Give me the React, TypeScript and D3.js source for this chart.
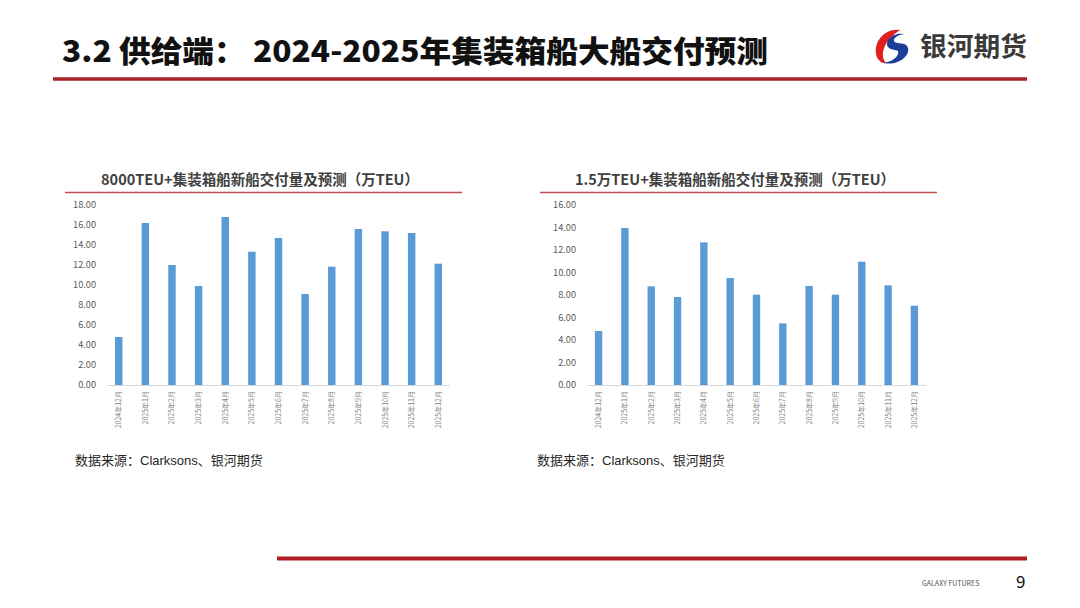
import React from "react";
import * as d3 from "d3";

const months = ["2024年12月", "2025年1月", "2025年2月", "2025年3月", "2025年4月", "2025年5月", "2025年6月", "2025年7月", "2025年8月", "2025年9月", "2025年10月", "2025年11月", "2025年12月"];
const values8000 = [4.8, 16.2, 12.0, 9.9, 16.8, 13.33, 14.7, 9.1, 11.83, 15.6, 15.37, 15.2, 12.13];
const values15k = [4.8, 13.96, 8.77, 7.82, 12.68, 9.51, 8.03, 5.48, 8.8, 8.03, 10.96, 8.86, 7.05];
const ticks8000 = [0, 2, 4, 6, 8, 10, 12, 14, 16, 18];
const ticks15k = [0, 2, 4, 6, 8, 10, 12, 14, 16];

const FONT = "'Noto Sans CJK SC', 'Noto Sans', sans-serif";
const SRC_FONT = "'Liberation Sans', 'Noto Sans CJK SC', sans-serif";
const BAR = "#5b9bd5";

type ChartProps = {
  title: string;
  values: number[];
  ticks: number[];
  x0: number;
  x1: number;
  titleX: number;
  ruleX0: number;
  ruleX1: number;
  labelX: number;
  sourceX: number;
};

function BarChart(p: ChartProps) {
  const yMax = p.ticks[p.ticks.length - 1];
  const y = d3.scaleLinear().domain([0, yMax]).range([385, 205]);
  const x = d3.scaleBand<string>().domain(months).range([p.x0, p.x1]).paddingInner(0.72).paddingOuter(0.3);
  const bw = x.bandwidth();
  return (
    <g>
      <text x={p.titleX} y={185} textAnchor="middle" fontFamily={FONT} fontWeight={700} fontSize={14.5} fill="#404040">
        {p.title}
      </text>
      <line x1={p.ruleX0} x2={p.ruleX1} y1={192.5} y2={192.5} stroke="#c0504d" strokeWidth={1.5} />
      {p.ticks.map((t) => (
        <text key={t} x={p.labelX} y={y(t) + 3.3} textAnchor="end" fontFamily={FONT} fontSize={9.2} fill="#595959">
          {d3.format(".2f")(t)}
        </text>
      ))}
      {p.values.map((v, i) => (
        <rect key={i} x={(x(months[i]) as number)} y={y(v)} width={bw} height={y(0) - y(v)} fill={BAR} />
      ))}
      <line x1={p.x0} x2={p.x1} y1={385.5} y2={385.5} stroke="#d9d9d9" strokeWidth={1} />
      {months.map((m) => {
        const cx = (x(m) as number) + bw / 2;
        return (
          <text key={m} transform={`translate(${cx + 2.5},391) rotate(-90)`} textAnchor="end" fontFamily={FONT} fontSize={7} fill="#7f7f7f">
            {m}
          </text>
        );
      })}
      <text x={p.sourceX} y={465} fontFamily={SRC_FONT} fontSize={13} fill="#262626">
        数据来源：Clarksons、银河期货
      </text>
    </g>
  );
}

export default function App() {
  return (
    <svg width={1080} height={608} style={{ position: "absolute", left: 0, top: 0, background: "#fff" }}>
      <rect width={1080} height={608} fill="#ffffff" />
      <text x={62} y={62} fontFamily={FONT} fontWeight={900} fontSize={30} fill="#111" textLength={706} lengthAdjust="spacingAndGlyphs">
        3.2 供给端：  2024-2025年集装箱船大船交付预测
      </text>
      {/* logo */}
      <g transform="translate(892,46)">
        <path d="M 8,-16 C -6,-18 -18,-6 -16,8 C -15,14 -10,18 -6,17 C -12,10 -10,-4 8,-16 Z" fill="#e02020" />
        <path d="M 12,-12 C 2,-14 -8,-6 -4,1 C 0,6 8,2 6,8 C 4,14 -4,16 -8,17 C 6,20 18,10 16,2 C 14,-5 4,-1 2,-5 C 1,-8 6,-11 12,-12 Z" fill="#1e3c9a" />
      </g>
      <text x={920} y={56} fontFamily={FONT} fontWeight={700} fontSize={26} fill="#3a3a3a" textLength={107} lengthAdjust="spacingAndGlyphs">
        银河期货
      </text>
      <line x1={53} x2={1027} y1={79} y2={79} stroke="#a8232a" strokeWidth={3.5} />

      <BarChart title="8000TEU+集装箱船新船交付量及预测（万TEU）" values={values8000} ticks={ticks8000} x0={107} x1={450} titleX={260} ruleX0={65} ruleX1={462} labelX={96} sourceX={75} />
      <BarChart title="1.5万TEU+集装箱船新船交付量及预测（万TEU）" values={values15k} ticks={ticks15k} x0={587} x1={926} titleX={735} ruleX0={540} ruleX1={937} labelX={576} sourceX={537} />

      <line x1={277} x2={1027} y1={558.5} y2={558.5} stroke="#b01e24" strokeWidth={4} />
      <text x={922} y={586} fontFamily={FONT} fontSize={7} fill="#555">GALAXY FUTURES</text>
      <text x={1016} y={588} fontFamily={FONT} fontSize={17} fill="#111">9</text>
    </svg>
  );
}
